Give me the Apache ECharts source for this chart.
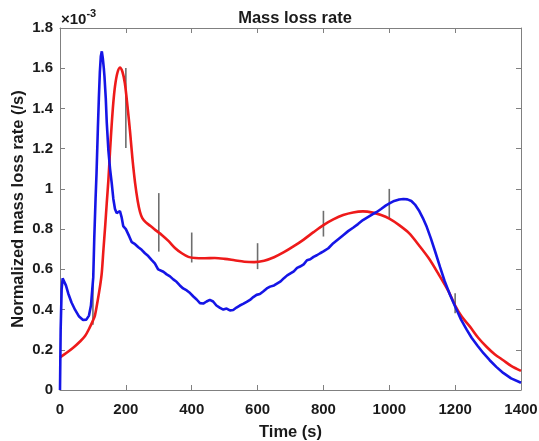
<!DOCTYPE html>
<html>
<head>
<meta charset="utf-8">
<script src="https://cdn.jsdelivr.net/npm/echarts@6/dist/echarts.min.js"></script>
<style>html,body{margin:0;padding:0;background:#fff;}#c{width:539px;height:441px;}</style>
</head>
<body>
<div id="c"></div>
<script>
// Time (s) and normalized mass loss rate (x1e-3 /s)
const redT = [0,20,40,60,76,90,100,106,115,122,127,132,137,142,147,152,157,162,167,174,182,190,197,205,213,220,228,236,243,250,260,275,290,310,330,350,370,390,410,440,470,500,530,560,590,620,650,680,710,740,770,800,830,860,890,920,950,975,1000,1030,1060,1090,1120,1150,1180,1200,1220,1245,1270,1296,1320,1346,1370,1400];
const redV = [0.162,0.185,0.21,0.24,0.268,0.31,0.345,0.37,0.45,0.52,0.585,0.7,0.81,0.93,1.045,1.19,1.32,1.43,1.51,1.575,1.603,1.58,1.525,1.41,1.28,1.15,1.03,0.94,0.885,0.855,0.835,0.815,0.795,0.77,0.74,0.705,0.68,0.662,0.656,0.655,0.656,0.652,0.645,0.638,0.636,0.643,0.66,0.685,0.715,0.748,0.785,0.82,0.848,0.87,0.883,0.888,0.882,0.87,0.852,0.82,0.78,0.72,0.655,0.575,0.49,0.42,0.365,0.315,0.26,0.214,0.178,0.148,0.12,0.095];

const blueT = [0,2,5,8,12,18,25,35,46,58,70,80,88,94,98,101,104,108,111,115,118,121,124,127,130,133,135,137,139,142,147,152,157,162,167,172,177,182,187,192,200,210,218,228,238,248,258,268,278,288,298,304,314,324,334,344,354,364,374,385,395,405,415,425,435,445,455,465,475,486,496,506,516,526,536,546,556,567,577,587,597,607,617,628,638,650,660,670,680,690,700,710,720,729,740,750,760,770,780,790,800,815,830,845,860,875,890,905,920,935,950,962,975,990,1002,1015,1030,1043,1055,1067,1078,1090,1102,1114,1126,1140,1154,1168,1184,1200,1218,1235,1250,1268,1286,1305,1325,1346,1370,1400];
const blueV = [0.0,0.3,0.5,0.555,0.55,0.52,0.48,0.435,0.398,0.365,0.348,0.35,0.37,0.42,0.5,0.56,0.75,0.95,1.08,1.3,1.45,1.58,1.66,1.684,1.65,1.6,1.56,1.56,1.45,1.33,1.19,1.1,1.03,0.95,0.9,0.88,0.875,0.89,0.86,0.815,0.8,0.765,0.735,0.725,0.71,0.697,0.68,0.666,0.647,0.63,0.6,0.592,0.588,0.575,0.565,0.55,0.538,0.52,0.505,0.495,0.482,0.465,0.45,0.432,0.43,0.44,0.448,0.44,0.42,0.408,0.4,0.405,0.396,0.398,0.41,0.42,0.428,0.438,0.448,0.462,0.473,0.477,0.49,0.505,0.514,0.52,0.53,0.54,0.556,0.57,0.58,0.59,0.607,0.614,0.625,0.645,0.65,0.662,0.67,0.68,0.689,0.705,0.73,0.75,0.77,0.79,0.807,0.825,0.845,0.86,0.875,0.885,0.9,0.918,0.929,0.94,0.947,0.95,0.948,0.94,0.922,0.893,0.855,0.81,0.755,0.685,0.612,0.542,0.475,0.415,0.35,0.3,0.26,0.22,0.183,0.148,0.115,0.085,0.058,0.036];

// Vertical spread bars
const errT = [100,200,300,400,600,800,1000,1200];
const errLo = [0.324,1.203,0.688,0.634,0.601,0.763,0.855,0.382];
const errHi = [0.582,1.601,0.979,0.783,0.730,0.891,1.0,0.481];

const xTicks = {min:0, max:1400, interval:200};
const yTicks = {min:0, max:1.8, interval:0.2};

const FONT = '"Liberation Sans", Arial, Helvetica, sans-serif';
const axisGray = '#808080';
const txt = '#1a1a1a';

const chart = echarts.init(document.getElementById('c'), null, {renderer:'canvas'});

function xAx(pos, show) {
  return {
    type:'value', position:pos, min:xTicks.min, max:xTicks.max, interval:xTicks.interval,
    axisLine:{show:true, onZero:false, lineStyle:{color:axisGray, width:1}},
    axisTick:{show:true, inside:true, length:5, lineStyle:{color:axisGray}},
    axisLabel:{show:show, color:txt, fontFamily:FONT, fontWeight:'bold', fontSize:15, margin:12,
      formatter:function(v){return String(v);}},
    splitLine:{show:false},
    name: show ? 'Time (s)' : '', nameLocation:'middle', nameGap:34, nameMoveOverlap:false,
    nameTextStyle:{color:txt, fontFamily:FONT, fontWeight:'bold', fontSize:16.5}
  };
}
function yAx(pos, show) {
  return {
    type:'value', position:pos, min:yTicks.min, max:yTicks.max, interval:yTicks.interval,
    axisLine:{show:true, onZero:false, lineStyle:{color:axisGray, width:1}},
    axisTick:{show:true, inside:true, length:5, lineStyle:{color:axisGray}},
    axisLabel:{show:show, color:txt, fontFamily:FONT, fontWeight:'bold', fontSize:15, margin:7},
    splitLine:{show:false},
    name: show ? 'Normalized mass loss rate (/s)' : '', nameLocation:'middle', nameGap:33, nameMoveOverlap:false,
    nameTextStyle:{color:txt, fontFamily:FONT, fontWeight:'bold', fontSize:16.5}
  };
}

const option = {
  backgroundColor:'#ffffff',
  animation:false,
  title:{text:'Mass loss rate', left:290, textAlign:'center', top:5,
    textStyle:{color:txt, fontFamily:FONT, fontWeight:'bold', fontSize:16.5}},
  grid:{left:60, right:18, top:28, bottom:51, containLabel:false, outerBoundsMode:'none'},
  xAxis:[xAx('bottom', true), xAx('top', false)],
  yAxis:[yAx('left', true), yAx('right', false)],
  graphic:[{
    type:'text', left:61, top:8,
    style:{
      text:'{a|×10}{b|-3}',
      rich:{
        a:{fontFamily:FONT, fontSize:15, fontWeight:'bold', fill:txt, padding:[6,0,0,0]},
        b:{fontFamily:FONT, fontSize:11, fontWeight:'bold', fill:txt, padding:[0,0,6,0]}
      }
    }
  }],
  series:[
    {
      type:'custom', xAxisIndex:0, yAxisIndex:0, z:1,
      data: errT.map((t,i)=>[t, errLo[i], errHi[i]]),
      renderItem:function(params, api){
        const p1 = api.coord([api.value(0), api.value(1)]);
        const p2 = api.coord([api.value(0), api.value(2)]);
        return {type:'line', shape:{x1:p1[0], y1:p1[1], x2:p2[0], y2:p2[1]},
          style:{stroke:'#6e6e6e', lineWidth:1.6}};
      }
    },
    {
      type:'line', xAxisIndex:0, yAxisIndex:0, z:3,
      data: redT.map((t,i)=>[t, redV[i]]),
      smooth:0.3, showSymbol:false, symbol:'none',
      lineStyle:{color:'#ee1a1a', width:2.6}
    },
    {
      type:'line', xAxisIndex:0, yAxisIndex:0, z:4,
      data: blueT.map((t,i)=>[t, blueV[i]]),
      smooth:false, showSymbol:false, symbol:'none',
      lineStyle:{color:'#1515e6', width:2.6}
    }
  ]
};
chart.setOption(option);
</script>
</body>
</html>
